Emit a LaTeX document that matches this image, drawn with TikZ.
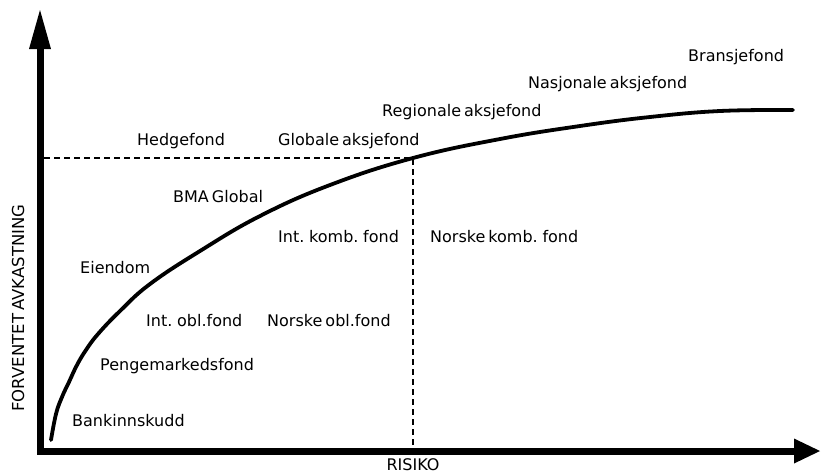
\documentclass[tikz,border=0pt]{standalone}
\usepackage{fontspec}
\setmainfont{DejaVu Sans}[WordSpace=0.6]
\begin{document}
\begin{tikzpicture}[x=1pt,y=-1pt,
  lbl/.style={inner sep=0pt,anchor=west,font=\fontsize{16}{19}\selectfont},
  axisline/.style={line width=7pt},
  dashline/.style={line width=1.3pt,dash pattern=on 6pt off 4pt},
  curveline/.style={line width=3.8pt,line cap=round}]
\useasboundingbox[fill=white] (0,0) rectangle (821,475);
% axes
\coordinate (top) at (40,48);
\coordinate (origin) at (40,451);
\coordinate (right) at (795,451);
\draw[axisline,line join=miter] (top) -- (origin) -- (right);
\fill (40,10) -- (29,49) -- (51,49) -- cycle;
\fill (820,451) -- (794,438.5) -- (794,463.5) -- cycle;
% dashed guides
\coordinate (hstart) at (44,158);
\coordinate (cross) at (413,158);
\coordinate (vend) at (413,447);
\draw[dashline] (hstart) -- (cross) -- (vend);
% curve
\draw[curveline] plot[smooth,tension=0.7] coordinates {(51,440) (56,414) (62,397) (69,382) (77,365) (86,350) (98,334) (120,311) (150,284) (200,251) (260,216) (330,185) (413,158) (500,139) (580,126) (650,117) (720,111) (793,110)};
% labels
\node[lbl] (bransje) at (688,57) {Bransjefond};
\node[lbl] (nasjonale) at (528,84) {Nasjonale aksjefond};
\node[lbl] (regionale) at (382,112) {Regionale aksjefond};
\node[lbl] (hedge) at (137,141) {Hedgefond};
\node[lbl] (globale) at (278,141) {Globale aksjefond};
\node[lbl] (bma) at (173,197) {BMA Global};
\node[lbl] (intkomb) at (278,237) {Int. komb. fond};
\node[lbl] (norkomb) at (430,237) {Norske komb. fond};
\node[lbl] (eiendom) at (80,268) {Eiendom};
\node[lbl] (intobl) at (146,321) {Int. obl.fond};
\node[lbl] (norobl) at (267,321) {Norske obl.fond};
\node[lbl] (penge) at (100,366) {Pengemarkedsfond};
\node[lbl] (bank) at (72,421) {Bankinnskudd};
\node[lbl,anchor=center] (risiko) at (413,465) {RISIKO};
\node[lbl,anchor=center,rotate=90,font=\fontsize{16.5}{19}\selectfont] (avk) at (18,308) {FORVENTET AVKASTNING};
\end{tikzpicture}
\end{document}
